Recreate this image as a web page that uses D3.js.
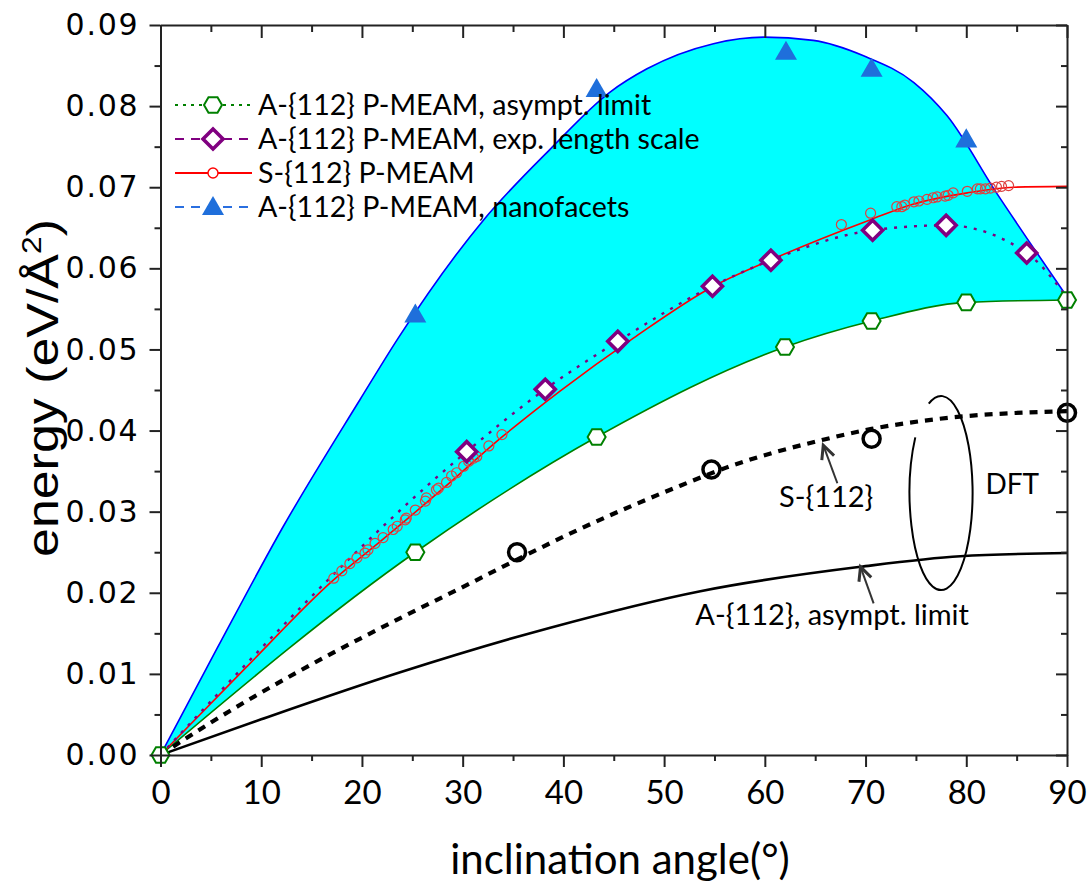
<!DOCTYPE html>
<html>
<head>
<meta charset="utf-8">
<script src="https://cdn.jsdelivr.net/npm/d3@7"></script>
<style>
  body { margin: 0; background: #fff; }
  svg { display: block; }
</style>
</head>
<body>
<svg id="chart" width="1090" height="895"></svg>
<script>
// ---------- data ----------
// A-{112} P-MEAM, nanofacets: fitted envelope and computed points
const facetCurveAngle  = [0, 5.6, 12.2, 19.8, 23.6, 32.1, 38.7, 44.6, 48.3, 54.9, 59.9, 64.8, 69.8, 74.8, 78.1, 83.0, 86.3, 90];
const facetCurveEnergy = [0, 0.0131, 0.0282, 0.0438, 0.0514, 0.0660, 0.0747, 0.0817, 0.0846, 0.0877, 0.0885, 0.0881, 0.0862, 0.0829, 0.0788, 0.0693, 0.0632, 0.0565];
const facetAngle  = [25.3, 43.3, 62.1, 70.6, 80.0];
const facetEnergy = [0.0543, 0.0821, 0.0867, 0.0846, 0.0759];

// A-{112} P-MEAM, asymptotic limit
const asymAngle  = [0, 25.3, 43.3, 62.0, 70.6, 80.0, 90];
const asymEnergy = [0, 0.0250, 0.0392, 0.0503, 0.0535, 0.0558, 0.0561];

// A-{112} P-MEAM, experimental length scale
const expAngle  = [0, 30.4, 38.2, 45.4, 54.8, 60.6, 70.7, 78.0, 86.0, 90];
const expEnergy = [0, 0.0374, 0.0451, 0.0510, 0.0578, 0.0610, 0.0647, 0.0653, 0.0619, 0.0564];

// S-{112} P-MEAM: fitted line and computed boundaries
const symLineAngle  = [0, 8.5, 17.1, 21.8, 28, 34, 39.7, 46.95, 54.9, 60.7, 70.5, 74.7, 80.1, 84.7, 90];
const symLineEnergy = [0, 0.0108, 0.0215, 0.0263, 0.0328, 0.0393, 0.0449, 0.0514, 0.0578, 0.0611, 0.0660, 0.0679, 0.0693, 0.0700, 0.0701];
const symAngle  = [17.2, 18.0, 18.8, 19.5, 20.3, 20.6, 21.3, 22.1, 23.1, 23.5, 24.3, 24.4, 25.3, 26.3, 26.4, 27.4, 27.6, 28.4, 28.9, 29.4, 30.1, 30.6, 31.1, 31.4, 32.6, 33.9,
                   67.6, 70.5, 73.1, 73.6, 73.9, 74.8, 75.3, 76.1, 76.7, 77.1, 77.9, 78.2, 78.7, 80.1, 81.1, 81.4, 81.9, 82.4, 83.0, 83.5, 84.2];
const symEnergy = [0.0218, 0.0227, 0.0236, 0.0243, 0.0249, 0.0253, 0.0261, 0.0268, 0.0278, 0.0282, 0.0290, 0.0292, 0.0302, 0.0313, 0.0317, 0.0327, 0.0329, 0.0336, 0.0344, 0.0348, 0.0356, 0.0362, 0.0366, 0.0368, 0.0381, 0.0395,
                   0.0654, 0.0668, 0.0676, 0.0676, 0.0678, 0.0682, 0.0683, 0.0685, 0.0687, 0.0688, 0.0689, 0.0690, 0.0693, 0.0695, 0.0698, 0.0698, 0.0698, 0.0699, 0.0700, 0.0701, 0.0702];

// DFT: S-{112} points and trend, A-{112} asymptotic limit
const dftSymAngle  = [35.4, 54.7, 70.6, 90];
const dftSymEnergy = [0.0250, 0.0352, 0.0390, 0.0422];
const dftSymTrendAngle  = [0, 5, 14, 24, 30, 35.4, 41.7, 51.6, 56.1, 65.9, 70.6, 77, 90];
const dftSymTrendEnergy = [0, 0.0040, 0.0105, 0.0170, 0.0207, 0.0241, 0.0279, 0.0332, 0.0354, 0.0389, 0.0402, 0.0414, 0.0424];
const dftAsymAngle  = [0, 10, 23.8, 38.7, 53.6, 69.5, 79.4, 90];
const dftAsymEnergy = [0, 0.0044, 0.0102, 0.0157, 0.0202, 0.0232, 0.0245, 0.0249];

// axis ticks
const xMajorTicks = [0, 10, 20, 30, 40, 50, 60, 70, 80, 90];
const xMinorTicks = [5, 15, 25, 35, 45, 55, 65, 75, 85];
const yMajorTicks = [0, 0.01, 0.02, 0.03, 0.04, 0.05, 0.06, 0.07, 0.08, 0.09];
const yMinorTicks = [0.005, 0.015, 0.025, 0.035, 0.045, 0.055, 0.065, 0.075, 0.085];

const legendLabels = [
  "A-{112} P-MEAM, asympt. limit",
  "A-{112} P-MEAM, exp. length scale",
  "S-{112} P-MEAM",
  "A-{112} P-MEAM, nanofacets"
];

// ---------- setup ----------
const zip = (a, b) => a.map((v, i) => [v, b[i]]);
const svg = d3.select("#chart");
const x = d3.scaleLinear().domain([0, 90]).range([160.5, 1067]);
const y = d3.scaleLinear().domain([0, 0.09]).range([755, 25]);

const FONT = "Lato, 'Open Sans', sans-serif";
const AXIS_COLOR = "#222";

const lineXY = d3.line().x(d => x(d[0])).y(d => y(d[1])).curve(d3.curveMonotoneX);
const areaUnder = d3.area().x(d => x(d[0])).y0(y(0)).y1(d => y(d[1])).curve(d3.curveMonotoneX);

// marker shapes
function hexagonPath(r) {
  const pts = d3.range(6).map(k => {
    const a = Math.PI / 3 * k;
    return [r * Math.cos(a), r * Math.sin(a)];
  });
  return "M" + pts.map(p => p.join(",")).join("L") + "Z";
}
function diamondPath(r) {
  return `M0,${-r}L${r},0L0,${r}L${-r},0Z`;
}
function trianglePath(w) {
  const h = w * 0.87;
  return `M0,${-h * 0.58}L${w / 2},${h * 0.42}L${-w / 2},${h * 0.42}Z`;
}

const COLORS = {
  cyan: "#00ffff",
  blue: "#0000ff",
  facet: "#1f6fdb",
  green: "#008000",
  purple: "#800080",
  red: "#ff0000",
  redMarker: "#dd4040",
  black: "#000000"
};

// ---------- filled band between nanofacet envelope and asymptotic limit ----------
const plot = svg.append("g");
plot.append("path").datum(zip(facetCurveAngle, facetCurveEnergy))
  .attr("d", areaUnder).attr("fill", COLORS.cyan);
plot.append("path").datum(zip(asymAngle, asymEnergy))
  .attr("d", areaUnder).attr("fill", "#ffffff");

// ---------- curves ----------
plot.append("path").datum(zip(facetCurveAngle, facetCurveEnergy))
  .attr("d", lineXY).attr("fill", "none").attr("stroke", COLORS.blue).attr("stroke-width", 1.6);
plot.append("path").datum(zip(asymAngle, asymEnergy))
  .attr("d", lineXY).attr("fill", "none").attr("stroke", COLORS.green).attr("stroke-width", 1.6);
plot.append("path").datum(zip(dftAsymAngle, dftAsymEnergy))
  .attr("d", lineXY).attr("fill", "none").attr("stroke", COLORS.black).attr("stroke-width", 2.6);
plot.append("path").datum(zip(dftSymTrendAngle, dftSymTrendEnergy))
  .attr("d", lineXY).attr("fill", "none").attr("stroke", COLORS.black).attr("stroke-width", 4.2)
  .attr("stroke-dasharray", "8,7");
plot.append("path").datum(zip(symLineAngle, symLineEnergy))
  .attr("d", lineXY).attr("fill", "none").attr("stroke", COLORS.red).attr("stroke-width", 1.6);
plot.append("path").datum(zip(expAngle, expEnergy))
  .attr("d", lineXY).attr("fill", "none").attr("stroke", COLORS.purple).attr("stroke-width", 2.4)
  .attr("stroke-dasharray", "3,7");

// ---------- markers ----------
plot.append("g").selectAll("circle").data(zip(symAngle, symEnergy)).join("circle")
  .attr("cx", d => x(d[0])).attr("cy", d => y(d[1])).attr("r", 5)
  .attr("fill", "none").attr("stroke", COLORS.redMarker).attr("stroke-width", 1.2);

plot.append("g").selectAll("path").data(zip(expAngle, expEnergy).slice(1, -1)).join("path")
  .attr("transform", d => `translate(${x(d[0])},${y(d[1])})`)
  .attr("d", diamondPath(10)).attr("fill", "#fff").attr("stroke", COLORS.purple).attr("stroke-width", 3.6);

plot.append("g").selectAll("path").data(zip(facetAngle, facetEnergy)).join("path")
  .attr("transform", d => `translate(${x(d[0])},${y(d[1])})`)
  .attr("d", trianglePath(22)).attr("fill", COLORS.facet);

plot.append("g").selectAll("path").data(zip(asymAngle, asymEnergy)).join("path")
  .attr("transform", d => `translate(${x(d[0])},${y(d[1])})`)
  .attr("d", hexagonPath(9)).attr("fill", "#fff").attr("stroke", COLORS.green).attr("stroke-width", 2);

plot.append("g").selectAll("circle").data(zip(dftSymAngle, dftSymEnergy)).join("circle")
  .attr("cx", d => x(d[0])).attr("cy", d => y(d[1])).attr("r", 8.5)
  .attr("fill", "none").attr("stroke", COLORS.black).attr("stroke-width", 3.5);

// ---------- axes ----------
function styleAxis(g) {
  g.selectAll("path.domain").attr("stroke", AXIS_COLOR).attr("stroke-width", 2);
  g.selectAll(".tick line").attr("stroke", AXIS_COLOR).attr("stroke-width", 2);
}
// bottom
svg.append("g").attr("transform", `translate(0,${y(0)})`)
  .call(d3.axisBottom(x).tickValues(xMinorTicks).tickSize(6).tickFormat(""))
  .call(g => g.select(".domain").remove()).call(styleAxis);
const xAxisG = svg.append("g").attr("transform", `translate(0,${y(0)})`)
  .call(d3.axisBottom(x).tickValues(xMajorTicks).tickSize(12).tickSizeOuter(0).tickPadding(14).tickFormat(d3.format("d")))
  .call(styleAxis);
xAxisG.selectAll("text").attr("font-family", FONT).attr("font-size", 33).attr("fill", "#000");
// top (inward ticks)
svg.append("g").attr("transform", `translate(0,${y(0.09)})`)
  .call(d3.axisBottom(x).tickValues(xMinorTicks).tickSize(7).tickFormat(""))
  .call(g => g.select(".domain").remove()).call(styleAxis);
svg.append("g").attr("transform", `translate(0,${y(0.09)})`)
  .call(d3.axisBottom(x).tickValues(xMajorTicks).tickSize(13).tickSizeOuter(0).tickFormat(""))
  .call(styleAxis);
// left
svg.append("g").attr("transform", `translate(${x(0)},0)`)
  .call(d3.axisLeft(y).tickValues(yMinorTicks).tickSize(6).tickFormat(""))
  .call(g => g.select(".domain").remove()).call(styleAxis);
const yAxisG = svg.append("g").attr("transform", `translate(${x(0)},0)`)
  .call(d3.axisLeft(y).tickValues(yMajorTicks).tickSize(11).tickSizeOuter(0).tickPadding(10).tickFormat(d3.format(".2f")))
  .call(styleAxis);
yAxisG.selectAll("text").attr("font-family", "'DejaVu Sans', sans-serif").attr("font-size", 30)
  .attr("letter-spacing", 1.8).attr("fill", "#000");
// right (inward ticks)
svg.append("g").attr("transform", `translate(${x(90)},0)`)
  .call(d3.axisLeft(y).tickValues(yMinorTicks).tickSize(6).tickFormat(""))
  .call(g => g.select(".domain").remove()).call(styleAxis);
svg.append("g").attr("transform", `translate(${x(90)},0)`)
  .call(d3.axisLeft(y).tickValues(yMajorTicks).tickSize(11).tickSizeOuter(0).tickFormat(""))
  .call(styleAxis);

// ---------- axis titles ----------
svg.append("text").attr("x", 620).attr("y", 874).attr("text-anchor", "middle")
  .attr("font-family", FONT).attr("font-size", 42).attr("fill", "#000")
  .text("inclination angle(°)");

const yTitle = svg.append("text")
  .attr("transform", "translate(58,388) rotate(-90) scale(1.18,1)")
  .attr("text-anchor", "middle")
  .attr("font-family", "'Liberation Sans', Arial, sans-serif").attr("font-size", 44).attr("fill", "#000");
yTitle.append("tspan").text("energy (eV/Å");
yTitle.append("tspan").attr("font-size", 27).attr("dy", -17).text("2");
yTitle.append("tspan").attr("dy", 17).text(")");

// ---------- legend ----------
const legend = svg.append("g").attr("font-family", FONT).attr("font-size", 28.6);
const legendRows = [105, 139, 173, 207];
const legendStyles = [
  { stroke: COLORS.green, dash: "3,5", width: 2, marker: "hex" },
  { stroke: COLORS.purple, dash: "9,7", width: 2, marker: "diamond" },
  { stroke: COLORS.red, dash: null, width: 2, marker: "circle" },
  { stroke: "#2a6fe0", dash: "9,7", width: 2, marker: "triangle" }
];
legendLabels.forEach((label, i) => {
  const g = legend.append("g").attr("transform", `translate(0,${legendRows[i]})`);
  const st = legendStyles[i];
  g.append("line").attr("x1", 175).attr("x2", 252).attr("y1", 0).attr("y2", 0)
    .attr("stroke", st.stroke).attr("stroke-width", st.width).attr("stroke-dasharray", st.dash);
  const m = g.append("g").attr("transform", "translate(213,0)");
  if (st.marker === "hex") m.append("path").attr("d", hexagonPath(9)).attr("fill", "#fff").attr("stroke", COLORS.green).attr("stroke-width", 2);
  if (st.marker === "diamond") m.append("path").attr("d", diamondPath(10)).attr("fill", "#fff").attr("stroke", COLORS.purple).attr("stroke-width", 3.6);
  if (st.marker === "circle") m.append("circle").attr("r", 5).attr("fill", "#fff").attr("stroke", COLORS.red).attr("stroke-width", 1.4);
  if (st.marker === "triangle") m.append("path").attr("d", trianglePath(22)).attr("fill", COLORS.facet);
  g.append("text").attr("x", 258).attr("y", 10).attr("fill", "#000").text(label);
});

// ---------- annotations ----------
const ann = svg.append("g").attr("font-family", FONT).attr("fill", "#000");
function arrow(tail, tip) {
  const [x0, y0] = [x(tail[0]), y(tail[1])];
  const [x1, y1] = [x(tip[0]), y(tip[1])];
  const ang = Math.atan2(y1 - y0, x1 - x0);
  const L = 15, spread = 0.45;
  const a1 = [x1 - L * Math.cos(ang - spread), y1 - L * Math.sin(ang - spread)];
  const a2 = [x1 - L * Math.cos(ang + spread), y1 - L * Math.sin(ang + spread)];
  ann.append("path").attr("d", `M${x0},${y0}L${x1},${y1}`).attr("stroke", "#333").attr("stroke-width", 2).attr("fill", "none");
  ann.append("path").attr("d", `M${a1}L${x1},${y1}L${a2}`).attr("stroke", "#333").attr("stroke-width", 3).attr("fill", "none");
}
arrow([67.2, 0.0335], [65.8, 0.0382]);
arrow([70.8, 0.0187], [69.5, 0.0232]);
ann.append("text").attr("x", x(61.4)).attr("y", y(0.0306)).attr("font-size", 29).text("S-{112}");
ann.append("text").attr("x", x(53.1)).attr("y", y(0.0160)).attr("font-size", 29).text("A-{112}, asympt. limit");
ann.append("text").attr("x", x(81.9)).attr("y", y(0.0322)).attr("font-size", 28).text("DFT");

// ellipse grouping the DFT results, drawn with a small opening on the upper left
{
  const cx = x(77.5), cy = y(0.0323), rx = 31.5, ry = 97;
  const t1 = -113 * Math.PI / 180, t2 = 215 * Math.PI / 180;
  const p1 = [cx + rx * Math.cos(t1), cy + ry * Math.sin(t1)];
  const p2 = [cx + rx * Math.cos(t2), cy + ry * Math.sin(t2)];
  ann.append("path").attr("d", `M${p1}A${rx},${ry} 0 1 1 ${p2}`)
    .attr("fill", "none").attr("stroke", "#000").attr("stroke-width", 2);
}
</script>
</body>
</html>
